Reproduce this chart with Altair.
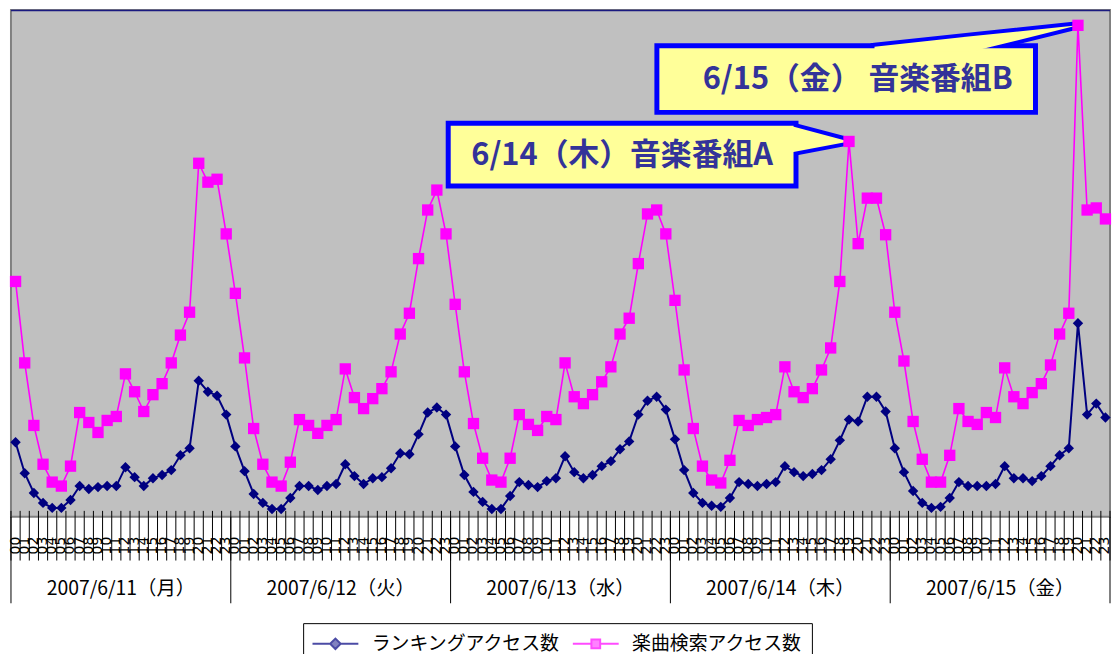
import altair as alt
import pandas as pd

# ---------------- data ----------------
day_labels = ["2007/6/11（月）", "2007/6/12（火）", "2007/6/13（水）", "2007/6/14（木）", "2007/6/15（金）"]
hour_labels = ["00", "01", "02", "03", "04", "05", "06", "07", "08", "09", "10", "11",
               "12", "13", "14", "15", "16", "17", "18", "19", "20", "21", "22", "23"]
series_names = ["ランキングアクセス数", "楽曲検索アクセス数"]

ranking = [
    434, 254, 139, 81, 52, 52, 98, 179, 162, 173, 179, 179, 289, 231, 179, 225, 243, 272, 358, 399, 792, 728, 705, 595,
    410, 266, 133, 81, 46, 46, 110, 179, 179, 156, 179, 191, 306, 237, 191, 225, 231, 283, 370, 364, 480, 607, 636, 595,
    410, 243, 145, 87, 46, 46, 121, 202, 185, 173, 208, 225, 353, 260, 225, 243, 295, 324, 393, 439, 595, 676, 699, 624,
    451, 272, 139, 81, 64, 58, 110, 202, 191, 179, 191, 202, 295, 260, 237, 249, 272, 335, 445, 566, 555, 699, 699, 613,
    399, 260, 150, 81, 52, 58, 110, 202, 179, 179, 179, 191, 295, 225, 225, 208, 237, 295, 358, 399, 1127, 595, 659, 578,
]
search = [
    1370, 896, 532, 306, 202, 179, 295, 607, 549, 491, 561, 584, 832, 728, 613, 711, 775, 896, 1058, 1191, 2058, 1948, 1965, 1647,
    1301, 925, 514, 306, 202, 179, 318, 566, 532, 486, 532, 566, 861, 694, 630, 688, 746, 844, 1064, 1185, 1503, 1786, 1902, 1647,
    1237, 844, 543, 341, 214, 202, 341, 595, 538, 503, 584, 566, 896, 699, 659, 711, 786, 873, 1064, 1156, 1474, 1763, 1786, 1647,
    1260, 855, 514, 295, 214, 197, 329, 561, 532, 566, 578, 595, 873, 728, 694, 746, 855, 983, 1370, 2185, 1590, 1855, 1855, 1642,
    1191, 907, 555, 335, 202, 202, 358, 630, 555, 538, 607, 578, 867, 699, 659, 723, 775, 884, 1064, 1185, 2861, 1786, 1798, 1734,
]

callout_a_text = "6/14（木）音楽番組A"
callout_b_text = "6/15（金） 音楽番組B"

# ---------------- tables ----------------
n = len(day_labels) * len(hour_labels)
idx = list(range(n))
df = pd.DataFrame({
    "i": idx,
    "hour": [hour_labels[k % 24] for k in idx],
    "ranking": ranking,
    "search": search,
})
days_df = pd.DataFrame({"i": [d * 24 + 11.5 for d in range(len(day_labels))], "label": day_labels})
ticks_df = pd.DataFrame({"b": [k - 0.5 for k in range(n + 1)]})
seps_df = pd.DataFrame({"b": [d * 24 - 0.5 for d in range(len(day_labels) + 1)]})
legend_df = pd.DataFrame({"series": series_names})
one = pd.DataFrame({"a": [0]})

W, H = 1106, 510
XMAX = 2950
NAVY = "#000080"
MAGENTA = "#FF00FF"
FONT = "Noto Sans CJK JP"

xs = alt.Scale(domain=[-0.5, n - 0.5], nice=False, zero=False)
ys = alt.Scale(domain=[0, XMAX], nice=False, zero=False)


# helpers for callout geometry (pixel within plot -> data units)
def px_i(px):
    return px / (W / n) - 0.5


def py_v(py):
    return (H - py) * XMAX / H


# pointer A: base inside box right edge, tip at search peak of 6/14 19h
tipA_i, tipA_v = 91, search[91]
ptrA = pd.DataFrame({
    "x": [px_i(786), tipA_i],
    "top": [py_v(117), tipA_v],
    "bot": [py_v(143), tipA_v],
})
# pointer B: base inside box top edge, tip at search peak of 6/15 20h
tipB_i, tipB_v = 116, search[116]
ptrB = pd.DataFrame({
    "x": [px_i(869), px_i(966), tipB_i],
    "top": [py_v(37), py_v(26.5), tipB_v],
    "bot": [py_v(42), py_v(42), tipB_v],
})

X = lambda f="i": alt.X(f"{f}:Q", scale=xs, axis=None)

# ---------------- layers ----------------
plot_bg = alt.Chart(one).mark_rect(fill="#C0C0C0", stroke="#808080", strokeWidth=2).encode(
    x=alt.value(0), x2=alt.value(W), y=alt.value(0), y2=alt.value(H))
top_line = alt.Chart(one).mark_rule(color="#1A1A80", strokeWidth=1.5).encode(
    x=alt.value(0), x2=alt.value(W), y=alt.value(0.5))

axes_layer = alt.Chart(df).mark_line(opacity=0).encode(
    x=alt.X("i:Q", scale=xs,
            axis=alt.Axis(labels=False, ticks=False, grid=False, title=None,
                          domainColor="black", domainWidth=1.5)),
    y=alt.Y("ranking:Q", scale=ys,
            axis=alt.Axis(values=[1000, 2000], labels=False, ticks=False, domain=False,
                          title=None, gridColor="#202020", gridWidth=1.5)),
)

tick_layer = alt.Chart(ticks_df).mark_rule(color="black", strokeWidth=1).encode(
    x=X("b"), y=alt.value(H - 6), y2=alt.value(H + 44))
sep_layer = alt.Chart(seps_df).mark_rule(color="black", strokeWidth=1).encode(
    x=X("b"), y=alt.value(H), y2=alt.value(H + 87))

hour_layer = alt.Chart(df).mark_text(angle=270, align="right", baseline="middle",
                                     fontSize=14, font="DejaVu Sans", color="black").encode(
    x=X("i"), y=alt.value(H + 20), text="hour:N")
day_layer = alt.Chart(days_df).mark_text(baseline="middle", fontSize=19.5, font=FONT,
                                         color="black").encode(
    x=X("i"), y=alt.value(H + 73), text="label:N")

YELLOW = "#FFFF99"
BLUE = "#0000FF"
TXT = "#333399"


def pointer(data, stroke=True):
    kw = dict(fill=YELLOW, interpolate="linear")
    if stroke:
        kw.update(stroke=BLUE, strokeWidth=8, strokeJoin="miter")
    return alt.Chart(data).mark_area(**kw).encode(
        x=alt.X("x:Q", scale=xs, axis=None),
        y=alt.Y("top:Q", scale=ys, axis=None),
        y2="bot:Q")


boxA = alt.Chart(one).mark_rect(fill=YELLOW, stroke=BLUE, strokeWidth=5).encode(
    x=alt.value(440), x2=alt.value(790), y=alt.value(114), y2=alt.value(177))
boxB = alt.Chart(one).mark_rect(fill=YELLOW, stroke=BLUE, strokeWidth=5).encode(
    x=alt.value(650), x2=alt.value(1031), y=alt.value(36), y2=alt.value(103))
textA = alt.Chart(one).mark_text(fontSize=31, fontWeight="bold", font=FONT, color=TXT,
                                 baseline="middle").encode(
    x=alt.value(615), y=alt.value(147), text=alt.value(callout_a_text))
textB = alt.Chart(one).mark_text(fontSize=31, fontWeight="bold", font=FONT, color=TXT,
                                 baseline="middle").encode(
    x=alt.value(852), y=alt.value(70), text=alt.value(callout_b_text))

nav_line = alt.Chart(df).mark_line(color=NAVY, strokeWidth=2).encode(
    x=X("i"), y=alt.Y("ranking:Q", scale=ys, axis=None))
nav_pts = alt.Chart(df).mark_point(shape="diamond", filled=True, color=NAVY, size=110,
                                   opacity=1).encode(
    x=X("i"), y=alt.Y("ranking:Q", scale=ys, axis=None))
mag_line = alt.Chart(df).mark_line(color=MAGENTA, strokeWidth=1.6).encode(
    x=X("i"), y=alt.Y("search:Q", scale=ys, axis=None))
mag_pts = alt.Chart(df).mark_point(shape="square", filled=True, color=MAGENTA, size=130,
                                   opacity=1).encode(
    x=X("i"), y=alt.Y("search:Q", scale=ys, axis=None))

path_d = "M-2.2,0L-0.5,0L0,-0.5L0.5,0L2.2,0L0.5,0L0,0.5L-0.5,0Z"
path_s = "M-2.2,0L-0.42,0L-0.42,-0.42L0.42,-0.42L0.42,0L2.2,0L0.42,0L0.42,0.42L-0.42,0.42L-0.42,0Z"

leg = alt.Legend(title=None, orient="none", legendX=294, legendY=617, direction="horizontal",
                 fillColor="white", strokeColor="black", padding=9, labelFontSize=19,
                 labelFont=FONT, labelColor="black", symbolSize=440, symbolStrokeWidth=2,
                 symbolOffset=12, labelOffset=25, columnPadding=7, labelLimit=400)
col_scale = alt.Scale(domain=series_names, range=[NAVY, MAGENTA])
legend_layer = alt.Chart(legend_df).transform_filter("false").mark_point(filled=True).encode(
    fill=alt.Fill("series:N", scale=col_scale, legend=leg),
    stroke=alt.Stroke("series:N", scale=col_scale, legend=leg),
    shape=alt.Shape("series:N", scale=alt.Scale(domain=series_names, range=[path_d, path_s]),
                    legend=leg),
)

chart = alt.layer(
    plot_bg, top_line, axes_layer, tick_layer, sep_layer, hour_layer, day_layer,
    pointer(ptrA), pointer(ptrB), boxA, boxB, pointer(ptrA, False), pointer(ptrB, False),
    textA, textB,
    nav_line, nav_pts, mag_line, mag_pts, legend_layer,
).properties(
    width=W, height=H,
    padding={"left": 3, "top": 0, "right": 2, "bottom": 136},
    autosize=alt.AutoSizeParams(type="none"),
    background="white",
).configure_view(stroke=None)

chart.save("out.html", embed_options={"renderer": "svg", "actions": False})
